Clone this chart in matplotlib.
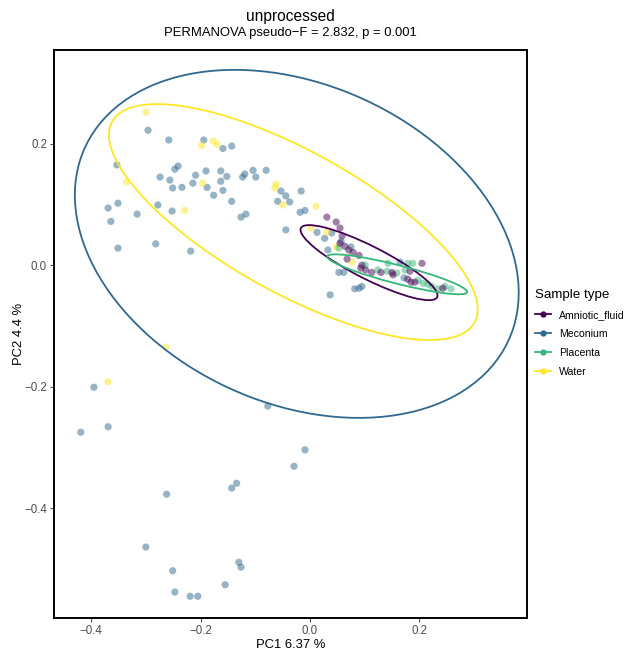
import numpy as np
import matplotlib
matplotlib.use("Agg")
import matplotlib.pyplot as plt
from matplotlib.patches import Ellipse
from matplotlib.lines import Line2D

plt.rcParams['font.family'] = ['Liberation Sans', 'DejaVu Sans']

groups = ["Amniotic_fluid", "Meconium", "Placenta", "Water"]
colors = ["#440154", "#31688E", "#35B779", "#FDE725"]

amniotic_x = [0.031, 0.048, 0.055, 0.059, 0.055, 0.064, 0.071, 0.079, 0.090, 0.068, 0.095, 0.093,
              0.102, 0.113, 0.130, 0.150, 0.152, 0.183, 0.205, 0.179, 0.185, 0.192, 0.243]
amniotic_y = [0.079, 0.071, 0.061, 0.048, 0.036, 0.031, 0.025, 0.021, 0.016, 0.010, 0.000, -0.005,
              -0.008, -0.012, -0.012, -0.012, -0.016, -0.010, 0.003, -0.023, -0.028, -0.028, -0.038]

meconium_x = [-0.296, -0.258, -0.194, -0.159, -0.143, -0.353, -0.241, -0.247, -0.274, -0.256, -0.251,
              -0.234, -0.214, -0.209, -0.190, -0.163, -0.152, -0.163, -0.188, -0.159, -0.176, -0.143,
              -0.123, -0.119, -0.104, -0.099, -0.080, -0.053, -0.044, -0.059, -0.037, -0.016, -0.018,
              -0.009, -0.351, -0.369, -0.364, -0.316, -0.278, -0.252, -0.126, -0.117, -0.044, -0.351,
              -0.282, -0.218, 0.013, 0.040, 0.027, 0.057, 0.033, 0.075, 0.053, 0.062, 0.082, 0.090,
              0.095, 0.037, 0.165, 0.172, -0.395, -0.369, -0.419, -0.077, -0.009, -0.029, -0.134,
              -0.143, -0.262, -0.300, -0.130, -0.126, -0.251, -0.155, -0.247, -0.219, -0.205]
meconium_y = [0.222, 0.206, 0.206, 0.192, 0.196, 0.165, 0.163, 0.158, 0.145, 0.140, 0.127,
              0.128, 0.135, 0.148, 0.155, 0.155, 0.146, 0.138, 0.128, 0.123, 0.115, 0.105,
              0.145, 0.150, 0.156, 0.145, 0.156, 0.122, 0.114, 0.105, 0.104, 0.122, 0.087,
              0.090, 0.102, 0.094, 0.072, 0.084, 0.099, 0.089, 0.079, 0.084, 0.058, 0.028,
              0.035, 0.023, 0.054, 0.053, 0.044, 0.039, 0.025, 0.030, -0.012, -0.012, -0.039, -0.038,
              -0.035, -0.049, 0.005, -0.021, -0.201, -0.266, -0.275, -0.232, -0.304, -0.331, -0.359,
              -0.367, -0.377, -0.464, -0.489, -0.497, -0.503, -0.526, -0.538, -0.545, -0.545]

placenta_x = [0.101, 0.141, 0.159, 0.179, 0.188, 0.174, 0.198, 0.207, 0.216, 0.223, 0.234, 0.258,
              0.053, 0.143, 0.124, 0.247]
placenta_y = [0.000, -0.010, -0.013, 0.003, 0.003, -0.008, -0.025, -0.030, -0.031, -0.035, -0.039, -0.039,
              0.028, 0.003, -0.008, -0.035]

water_x = [-0.300, -0.198, -0.177, -0.170, -0.335, -0.196, -0.229, -0.062, -0.064, -0.049, 0.011,
           0.002, 0.031, 0.048, 0.077, -0.369, -0.263]
water_y = [0.252, 0.197, 0.204, 0.199, 0.137, 0.135, 0.090, 0.133, 0.127, 0.099, 0.097,
           0.061, 0.054, 0.030, 0.005, -0.192, -0.135]

# 95% ellipses per group: centre, full width, full height, angle (deg), in the order of `groups`
ell_cx = [0.1081, -0.024, 0.1597, -0.0303]
ell_cy = [0.0041, 0.035, -0.0151, 0.0709]
ell_w = [0.2739, 0.839, 0.2623, 0.7408]
ell_h = [0.0550, 0.532, 0.0304, 0.2384]
ell_ang = [155.65, -19.1, 167.05, 154.08]

fig = plt.figure(figsize=(6.3, 6.5), dpi=100)
ax = fig.add_axes([0.0857, 0.049, 0.7508, 0.874])

series = [(meconium_x, meconium_y, 1), (water_x, water_y, 3), (placenta_x, placenta_y, 2),
          (amniotic_x, amniotic_y, 0)]
for xs, ys, i in series:
    ax.scatter(xs, ys, s=27, color=colors[i], alpha=0.5, edgecolors='none', zorder=2)

for i in range(len(groups)):
    ax.add_patch(Ellipse((ell_cx[i], ell_cy[i]), ell_w[i], ell_h[i], angle=ell_ang[i],
                         fill=False, edgecolor=colors[i], linewidth=1.3, zorder=3))

ax.set_xlim(-0.468, 0.397)
ax.set_ylim(-0.581, 0.354)
ticks = [-0.4, -0.2, 0.0, 0.2]
tick_labels = ["\u22120.4", "\u22120.2", "0.0", "0.2"]
ax.set_xticks(ticks)
ax.set_xticklabels(tick_labels)
ax.set_yticks(ticks)
ax.set_yticklabels(tick_labels)
ax.tick_params(colors="#4D4D4D", labelsize=8.3, length=3, width=0.8, pad=2)
for sp in ax.spines.values():
    sp.set_linewidth(1.4)
    sp.set_color("black")
ax.set_xlabel("PC1 6.37 %", fontsize=9.4)
ax.xaxis.set_label_coords(0.5, -0.036)
ax.set_ylabel("PC2 4.4 %", fontsize=9.4)
ax.yaxis.set_label_coords(-0.062, 0.5)

fig.text(0.461, 0.975, "unprocessed", ha='center', va='center', fontsize=11.2)
fig.text(0.461, 0.949, "PERMANOVA pseudo\u2212F = 2.832, p = 0.001", ha='center', va='center', fontsize=9.4)

handles = [Line2D([0], [0], color=c, marker='o', markersize=3.5, linewidth=1.3) for c in colors]
fig.legend(handles, groups, title="Sample type", loc='upper left', bbox_to_anchor=(0.842, 0.562),
           frameon=False, fontsize=7.6, title_fontsize=9.6, handlelength=1.5, handletextpad=0.8,
           labelspacing=0.85, alignment='left', borderaxespad=0)

fig.savefig("out.png", dpi=100)
